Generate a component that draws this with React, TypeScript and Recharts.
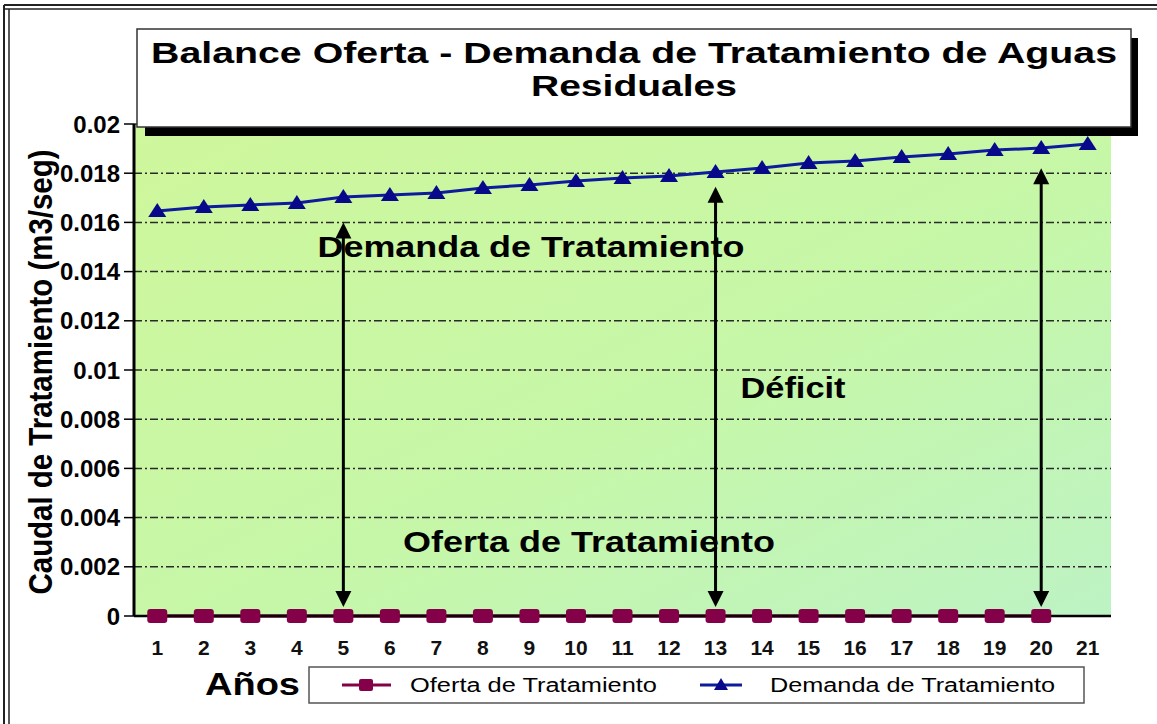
import React from "react";
import {
  ComposedChart,
  Line,
  XAxis,
  YAxis,
  CartesianGrid,
  ReferenceLine,
} from "recharts";

// years on the x axis
const years = [1, 2, 3, 4, 5, 6, 7, 8, 9, 10, 11, 12, 13, 14, 15, 16, 17, 18, 19, 20, 21];

// caudal (m3/seg)
const oferta = [0, 0, 0, 0, 0, 0, 0, 0, 0, 0, 0, 0, 0, 0, 0, 0, 0, 0, 0, 0, null];
const demanda = [
  0.01646, 0.01663, 0.01671, 0.01679, 0.01703, 0.01711, 0.0172, 0.0174, 0.01752, 0.01768,
  0.0178, 0.01789, 0.01805, 0.01821, 0.01841, 0.0185, 0.01866, 0.01878, 0.01894, 0.01902,
  0.01919,
];

const yTicks = [0, 0.002, 0.004, 0.006, 0.008, 0.01, 0.012, 0.014, 0.016, 0.018, 0.02];

// double arrows marking the deficit
const arrowYears = [5, 13, 20];
const arrowTops = [0.016, 0.01745, 0.0182];
const arrowBottom = 0.00037;

const data = years.map((year, i) => ({
  year,
  oferta: oferta[i],
  demanda: demanda[i],
}));

const FONT = '"Liberation Sans", Arial, Helvetica, sans-serif';
const OFERTA_COLOR = "#840048";
const DEMANDA_COLOR = "#0c1c9c";
const TRIANGLE_COLOR = "#08088a";

const SquareDot = (props: any) => {
  const { cx, cy, index } = props;
  if (cx == null || cy == null || props.value == null) return <g key={`sq-${index}`} />;
  return (
    <rect
      key={`sq-${index}`}
      x={cx - 10}
      y={cy - 7}
      width={20}
      height={14}
      rx={3}
      fill={OFERTA_COLOR}
    />
  );
};

const TriangleDot = (props: any) => {
  const { cx, cy, index } = props;
  if (cx == null || cy == null) return <g key={`tr-${index}`} />;
  return (
    <polygon
      key={`tr-${index}`}
      points={`${cx},${cy - 8} ${cx + 9},${cy + 6} ${cx - 9},${cy + 6}`}
      fill={TRIANGLE_COLOR}
    />
  );
};

const DoubleArrow = (props: any) => {
  const { x1, y1, x2, y2 } = props;
  const x = x1;
  const bottom = Math.max(y1, y2);
  const top = Math.min(y1, y2);
  const h = 16;
  return (
    <g>
      <line x1={x} x2={x2} y1={top + h - 2} y2={bottom - h + 2} stroke="#000" strokeWidth={3} />
      <polygon points={`${x},${top} ${x + 8},${top + h} ${x - 8},${top + h}`} fill="#000" />
      <polygon points={`${x},${bottom} ${x + 8},${bottom - h} ${x - 8},${bottom - h}`} fill="#000" />
    </g>
  );
};

function Overlay() {
  return (
    <svg
      width={1157}
      height={724}
      style={{ position: "absolute", left: 0, top: 0, pointerEvents: "none" }}
      fontFamily={FONT}
    >
      {/* outer frame */}
      <line x1={4} y1={5} x2={1157} y2={5} stroke="#222" strokeWidth={2} />
      <line x1={4} y1={9} x2={1157} y2={9} stroke="#222" strokeWidth={1.5} />
      <line x1={4} y1={5} x2={4} y2={724} stroke="#222" strokeWidth={2} />
      <line x1={9} y1={9} x2={9} y2={724} stroke="#222" strokeWidth={1.5} />

      {/* title box */}
      <rect x={145} y={38} width={993} height={98} fill="#000" />
      <rect x={137} y={29} width={994} height={98} fill="#fff" stroke="#333" strokeWidth={1.5} />
      <text x={634} y={63} textAnchor="middle" fontSize={30} fontWeight="bold" textLength={966} lengthAdjust="spacingAndGlyphs">
        Balance Oferta - Demanda de Tratamiento de Aguas
      </text>
      <text x={634} y={96} textAnchor="middle" fontSize={30} fontWeight="bold" textLength={206} lengthAdjust="spacingAndGlyphs">
        Residuales
      </text>

      {/* annotations */}
      <text x={531} y={257} textAnchor="middle" fontSize={30} fontWeight="bold" textLength={427} lengthAdjust="spacingAndGlyphs">
        Demanda de Tratamiento
      </text>
      <text x={793} y={398} textAnchor="middle" fontSize={29} fontWeight="bold" textLength={105} lengthAdjust="spacingAndGlyphs">
        Déficit
      </text>
      <text x={589} y={552} textAnchor="middle" fontSize={30} fontWeight="bold" textLength={372} lengthAdjust="spacingAndGlyphs">
        Oferta de Tratamiento
      </text>

      {/* y axis title */}
      <text
        x={0}
        y={0}
        transform="translate(40 372) rotate(-90)"
        textAnchor="middle"
        dominantBaseline="central"
        fontSize={34}
        fontWeight="bold"
        textLength={445}
        lengthAdjust="spacingAndGlyphs"
      >
        Caudal de Tratamiento (m3/seg)
      </text>

      {/* x axis title */}
      <text x={205} y={695} fontSize={32} fontWeight="bold" textLength={95} lengthAdjust="spacingAndGlyphs">
        Años
      </text>

      {/* legend */}
      <rect x={309} y={667} width={775} height={36} fill="#fff" stroke="#555" strokeWidth={1.5} />
      <line x1={342} x2={391} y1={685} y2={685} stroke={OFERTA_COLOR} strokeWidth={3} />
      <rect x={359} y={679} width={14} height={12} rx={2} fill={OFERTA_COLOR} />
      <text x={410} y={692} fontSize={20} textLength={247} lengthAdjust="spacingAndGlyphs">
        Oferta de Tratamiento
      </text>
      <line x1={700} x2={742} y1={685} y2={685} stroke={DEMANDA_COLOR} strokeWidth={3} />
      <polygon points="721,678 728,690 714,690" fill={TRIANGLE_COLOR} />
      <text x={770} y={692} fontSize={20} textLength={285} lengthAdjust="spacingAndGlyphs">
        Demanda de Tratamiento
      </text>
    </svg>
  );
}

export default function App() {
  return (
    <div
      style={{
        position: "absolute",
        left: 0,
        top: 0,
        width: 1157,
        height: 724,
        background: "#fff",
        fontFamily: FONT,
      }}
    >
      <ComposedChart
        width={1157}
        height={724}
        data={data}
        margin={{ top: 124, right: 46, bottom: 78, left: 74 }}
      >
        <defs>
          <linearGradient id="plot-bg" x1="0" y1="0" x2="1" y2="1">
            <stop offset="0%" stopColor="#cff79c" />
            <stop offset="55%" stopColor="#c6f7a8" />
            <stop offset="100%" stopColor="#bdf3c4" />
          </linearGradient>
        </defs>
        <CartesianGrid
          vertical={false}
          fill="url(#plot-bg)"
          stroke="#2a2a2a"
          strokeWidth={1.5}
          strokeDasharray="8 3 2 3"
        />
        <XAxis
          dataKey="year"
          type="category"
          scale="band"
          axisLine={{ stroke: "#000", strokeWidth: 2.5 }}
          tickLine={false}
          tickSize={0}
          tickMargin={24}
          height={30}
          interval={0}
          tick={{ fontSize: 21, fontWeight: "bold", fill: "#111", fontFamily: FONT }}
        />
        <YAxis
          domain={[0, 0.02]}
          ticks={yTicks}
          width={60}
          axisLine={{ stroke: "#000", strokeWidth: 3 }}
          tickLine={{ stroke: "#000", strokeWidth: 1.5 }}
          tickSize={10}
          tickMargin={4}
          tick={{ fontSize: 24, fontWeight: "bold", fill: "#000", fontFamily: FONT }}
        />
        <YAxis
          yAxisId="frame"
          orientation="right"
          domain={[0, 0.02]}
          width={0}
          tick={false}
          tickLine={false}
          axisLine={{ stroke: "#888", strokeWidth: 2 }}
        />
        {arrowYears.map((yr, i) => (
          <ReferenceLine
            key={`arrow-${yr}`}
            segment={[
              { x: yr, y: arrowBottom },
              { x: yr, y: arrowTops[i] },
            ]}
            shape={(p: any) => <DoubleArrow {...p} />}
          />
        ))}
        <Line
          dataKey="demanda"
          name="Demanda de Tratamiento"
          stroke={DEMANDA_COLOR}
          strokeWidth={3}
          dot={<TriangleDot />}
          isAnimationActive={false}
        />
        <Line
          dataKey="oferta"
          name="Oferta de Tratamiento"
          stroke={OFERTA_COLOR}
          strokeWidth={3.5}
          dot={<SquareDot />}
          isAnimationActive={false}
        />
      </ComposedChart>
      <Overlay />
    </div>
  );
}
